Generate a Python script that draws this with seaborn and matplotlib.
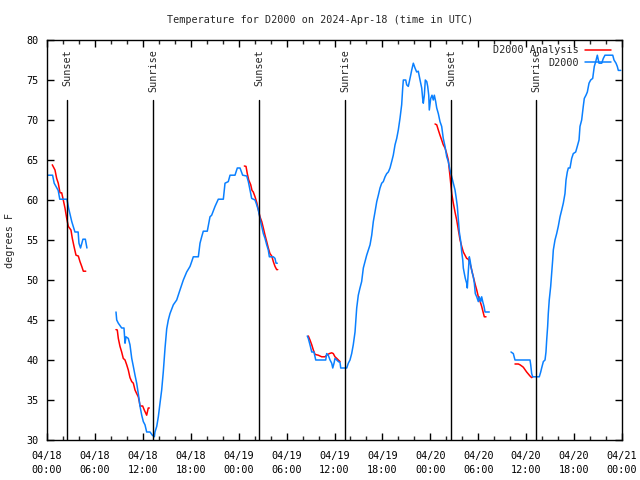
import numpy as np
import pandas as pd
import matplotlib
matplotlib.use("Agg")
import matplotlib.pyplot as plt
import matplotlib.dates as mdates
from matplotlib.lines import Line2D
import seaborn as sns

# ---------------- data (hours after 2024-04-18 00:00 UTC, degrees F) ----------------
start = pd.Timestamp("2024-04-18 00:00")

obs_hours = [
    [0.0, 0.7, 0.9, 1.4, 1.6, 2.5, 2.7, 3.1, 3.5, 3.9, 4.0, 4.2, 4.5, 4.8, 5.0],
    [8.64, 8.73, 8.93, 9.35, 9.64, 9.77, 9.89, 10.18, 10.39, 10.61, 10.81, 11.02, 11.23,
     11.43, 11.65, 11.86, 12.06, 12.27, 12.48, 12.90, 13.19, 13.44, 13.52, 13.74, 13.94,
     14.15, 14.36, 14.56, 14.78, 14.99, 15.19, 15.40, 15.82, 16.24, 16.65, 17.07, 17.49,
     17.91, 18.12, 18.32, 18.95, 19.16, 19.37, 19.57, 20.07, 20.41, 20.62, 21.04, 21.45,
     22.08, 22.29, 22.70, 22.92, 23.54, 23.83, 24.17, 24.50, 25.01, 25.21, 25.42, 25.63,
     26.05, 26.26, 26.46, 26.67, 26.89, 27.09, 27.30, 27.51, 27.71, 27.84, 28.34, 28.55,
     28.68, 28.84],
    [32.59, 32.72, 32.93, 33.15, 33.43, 33.65, 34.90, 35.02, 35.22, 35.44, 35.65, 35.78,
     35.94, 36.06, 36.28, 36.48, 36.69, 36.78, 37.53, 37.73, 37.94, 38.15, 38.35, 38.57,
     38.78, 38.98, 39.19, 39.40, 39.61, 39.82, 40.03, 40.45, 40.66, 40.86, 41.07, 41.29,
     41.49, 41.70, 41.91, 42.11, 42.33, 42.54, 42.74, 42.95, 43.16, 43.36, 43.58, 43.79,
     43.99, 44.20, 44.41, 44.54, 44.62, 44.92, 45.04, 45.24, 45.37, 45.54, 45.67, 45.87,
     46.08, 46.29, 46.49, 46.71, 46.92, 47.04, 47.12, 47.25, 47.37, 47.55, 47.67, 47.80,
     47.87, 48.05, 48.21, 48.37, 48.50, 48.67, 48.80, 49.00, 49.21, 49.42, 49.62, 49.84,
     50.05, 50.25, 50.46, 50.68, 50.88, 51.09, 51.22, 51.38, 51.51, 51.63, 51.81, 51.93,
     52.06, 52.13, 52.26, 52.38, 52.55, 52.63, 52.75, 52.88, 52.97, 53.09, 53.22, 53.38,
     53.51, 53.63, 53.81, 54.01, 54.13, 54.31, 54.43, 54.56, 54.72, 54.85, 55.38],
    [58.10, 58.39, 58.60, 60.48, 60.57, 60.69, 60.82, 61.64, 61.82, 61.94, 62.15, 62.36,
     62.48, 62.57, 62.69, 62.77, 62.89, 63.07, 63.19, 63.32, 63.40, 63.61, 63.82, 64.02,
     64.24, 64.45, 64.65, 64.86, 64.99, 65.15, 65.28, 65.49, 65.70, 65.90, 66.20, 66.40,
     66.62, 66.74, 66.95, 67.15, 67.28, 67.49, 67.66, 67.87, 68.08, 68.33, 68.53, 68.71,
     68.91, 69.12, 69.46, 69.66, 69.87, 70.84, 71.00, 71.25, 71.41, 71.54, 71.84],
]
obs_temps = [
    [63.1, 63.1, 62.1, 61.2, 60.1, 60.1, 59.0, 57.3, 56.0, 56.0, 54.6, 54.0, 55.1, 55.1, 54.0],
    [46.0, 45.0, 44.6, 44.0, 44.0, 42.1, 42.9, 42.7, 41.9, 40.2, 39.2, 38.1, 37.1,
     35.8, 34.2, 33.1, 32.3, 31.9, 31.0, 31.0, 30.6, 30.4, 31.0, 31.7, 32.9,
     34.6, 36.25, 38.5, 41.5, 43.9, 45.0, 45.8, 46.9, 47.5, 48.75, 50.0, 51.0,
     51.7, 52.3, 52.9, 52.9, 54.6, 55.4, 56.1, 56.1, 57.9, 58.1, 59.2, 60.1,
     60.1, 62.1, 62.3, 63.1, 63.1, 64.0, 64.0, 63.1, 63.0, 62.3, 61.25, 60.2,
     60.0, 59.4, 58.75, 57.7, 56.7, 55.8, 55.2, 54.4, 53.75, 52.9, 52.9, 52.7,
     52.1, 52.1],
    [43.0, 42.7, 41.9, 41.0, 41.0, 40.0, 40.0, 40.8, 40.6, 40.0, 39.6, 39.0,
     39.6, 40.2, 40.0, 39.8, 39.7, 39.0, 39.0, 39.6, 40.0, 40.8, 41.9, 43.5,
     46.5, 48.1, 49.0, 49.8, 51.5, 52.3, 53.1, 54.4, 55.6, 57.3, 58.5, 59.8,
     60.6, 61.5, 62.1, 62.3, 62.9, 63.3, 63.5, 64.0, 64.8, 65.6, 66.9, 67.7,
     68.75, 70.2, 71.9, 74.0, 75.0, 75.0, 74.4, 74.2, 74.8, 75.6, 76.25, 77.1,
     76.5, 76.0, 76.1, 75.0, 74.0, 72.7, 72.1, 73.1, 75.0, 74.8, 74.2, 73.1,
     71.25, 72.7, 73.1, 72.5, 73.1, 72.3, 71.5, 70.8, 69.8, 69.2, 67.7, 66.7,
     65.4, 64.8, 63.75, 62.9, 62.1, 61.25, 60.4, 59.2, 57.5, 56.0, 54.8, 53.5,
     52.5, 51.5, 50.8, 50.2, 49.6, 49.0, 51.0, 52.9, 52.5, 51.7, 51.0, 50.4,
     49.6, 48.3, 47.9, 47.3, 47.9, 47.3, 47.9, 47.3, 46.7, 46.0, 46.0],
    [41.0, 40.8, 40.0, 40.0, 39.4, 38.3, 37.9, 37.9, 38.5, 39.0, 39.8, 40.0,
     41.0, 42.5, 44.2, 45.8, 47.5, 49.2, 50.8, 52.5, 53.75, 55.0, 55.8, 56.7,
     57.9, 58.75, 59.6, 60.8, 62.5, 63.5, 64.0, 64.0, 65.2, 65.8, 66.0, 66.7,
     67.5, 69.2, 70.0, 71.7, 72.7, 73.1, 73.5, 74.6, 75.0, 75.2, 76.7, 77.3,
     78.1, 77.1, 77.1, 77.7, 78.1, 78.1, 77.5, 77.1, 76.7, 76.2, 76.2],
]

ana_hours = [
    [0.66, 1.0, 1.21, 1.41, 1.63, 1.84, 2.04, 2.25, 2.47, 2.67, 3.0, 3.17, 3.38, 3.63,
     3.92, 4.13, 4.35, 4.55, 4.85],
    [8.64, 8.80, 8.93, 9.14, 9.35, 9.55, 9.77, 9.98, 10.18, 10.39, 10.61, 10.81, 11.02,
     11.23, 11.43, 11.56, 11.65, 11.98, 12.18, 12.48, 12.68, 12.81],
    [24.71, 24.92, 25.08, 25.26, 25.51, 25.67, 25.83, 26.05, 26.26, 26.46, 26.67, 26.89,
     27.09, 27.30, 27.51, 27.71, 27.92, 28.14, 28.34, 28.55, 28.76, 28.89],
    [32.72, 32.93, 33.15, 33.35, 33.56, 33.97, 34.40, 34.81, 35.02, 35.35, 35.65, 35.85,
     36.06, 36.28, 36.48, 36.69],
    [48.59, 48.80, 49.00, 49.21, 49.42, 49.62, 49.84, 50.05, 50.25, 50.46, 50.68, 50.88,
     51.09, 51.30, 51.51, 51.72, 51.93, 52.13, 52.55, 52.75, 52.97, 53.18, 53.38, 53.63,
     53.81, 54.01, 54.24, 54.43, 54.63, 54.76, 54.97],
    [58.60, 59.02, 59.23, 59.44, 59.64, 59.85, 60.06, 60.27, 60.48, 60.69, 60.82],
]
ana_temps = [
    [64.4, 63.75, 62.7, 62.1, 60.9, 60.9, 60.0, 59.0, 57.7, 56.7, 56.25, 55.2, 54.2, 53.1,
     53.0, 52.3, 51.7, 51.1, 51.1],
    [43.8, 43.75, 42.7, 41.7, 41.0, 40.2, 40.0, 39.4, 38.75, 37.8, 37.3, 37.1, 36.25,
     35.8, 35.4, 34.8, 34.25, 34.25, 33.75, 33.1, 34.0, 34.0],
    [64.25, 64.2, 63.3, 62.5, 61.9, 61.2, 61.0, 60.4, 59.7, 58.8, 57.9, 57.3,
     56.5, 55.6, 54.8, 54.0, 53.3, 53.0, 52.3, 51.7, 51.3, 51.3],
    [43.0, 42.5, 41.9, 41.25, 40.7, 40.6, 40.4, 40.4, 40.6, 40.8, 40.9, 40.8,
     40.4, 40.2, 40.0, 39.8],
    [69.5, 69.4, 68.75, 68.1, 67.5, 66.9, 66.5, 65.8, 65.0, 63.0, 60.8, 59.6,
     58.5, 57.5, 56.25, 55.0, 54.2, 53.5, 52.7, 52.6, 52.1, 51.25, 50.4, 49.4,
     48.75, 47.9, 47.3, 46.7, 45.9, 45.4, 45.4],
    [39.5, 39.5, 39.4, 39.25, 39.1, 38.8, 38.5, 38.25, 38.0, 37.8, 37.9],
]

event_hours = [2.50, 13.27, 26.55, 37.32, 50.59, 61.23]
event_labels = ["Sunset", "Sunrise", "Sunset", "Sunrise", "Sunset", "Sunrise"]

series_names = ["D2000 Analysis", "D2000"]
title = "Temperature for D2000 on 2024-Apr-18 (time in UTC)"

# ---------------- build table ----------------
rows = []
for name, hrs, tmps in [(series_names[0], ana_hours, ana_temps),
                        (series_names[1], obs_hours, obs_temps)]:
    for k, (hs, ts) in enumerate(zip(hrs, tmps)):
        for h, t in zip(hs, ts):
            rows.append({"time": start + pd.Timedelta(hours=h), "temp": t,
                         "series": name, "seg": f"{name}-{k}"})
df = pd.DataFrame(rows)

# ---------------- plot ----------------
sns.set_style("ticks")
FS = 7.3
plt.rcParams["font.family"] = ["DejaVu Sans Mono"]
plt.rcParams["font.size"] = FS

colors = {"D2000 Analysis": "#ff0000", "D2000": "#0a80ff"}

fig = plt.figure(figsize=(6.4, 4.8), dpi=100)
ax = fig.add_axes([47 / 640, 40 / 480, 575 / 640, 400 / 480])

for name in series_names:
    sub = df[df.series == name]
    sns.lineplot(data=sub, x="time", y="temp", units="seg", estimator=None,
                 color=colors[name], linewidth=1.1, sort=False, ax=ax, legend=False)

for h, lab in zip(event_hours, event_labels):
    t = start + pd.Timedelta(hours=h)
    ax.plot([t, t], [30, 72.5], color="black", linewidth=1.0)
    ax.text(t, 78.8, lab, rotation=90, ha="center", va="top", fontsize=FS)

ax.set_xlim(start, start + pd.Timedelta(hours=72))
ax.set_ylim(30, 80)
ax.set_yticks(np.arange(30, 81, 5))
ax.xaxis.set_major_locator(mdates.HourLocator(byhour=range(0, 24, 6)))
ax.xaxis.set_minor_locator(mdates.HourLocator(byhour=range(0, 24, 2)))
ax.xaxis.set_major_formatter(mdates.DateFormatter("%m/%d\n%H:%M"))
ax.tick_params(axis="both", which="major", direction="in", length=5, width=1,
               top=True, right=True, labelsize=FS, colors="black")
ax.tick_params(axis="x", which="major", pad=8)
ax.tick_params(axis="y", which="major", pad=6)
ax.tick_params(axis="x", which="minor", direction="in", length=3, width=1,
               top=True, bottom=True)
for sp in ax.spines.values():
    sp.set_linewidth(1.0)
    sp.set_color("black")

ax.set_xlabel("")
ax.set_ylabel("degrees F", fontsize=FS, labelpad=8)
fig.text(0.5, 1 - 20 / 480, title, ha="center", va="center", fontsize=FS)

handles = [Line2D([0], [0], color=colors[n], linewidth=1.1) for n in series_names]
ax.legend(handles, series_names, loc="upper right", frameon=False, markerfirst=False,
          handlelength=2.6, borderaxespad=0.1, labelspacing=0.25, fontsize=FS,
          handletextpad=0.6, bbox_to_anchor=(0.99, 1.0))

fig.canvas.draw()
for lbl in ax.get_xticklabels():
    lbl.set_linespacing(1.5)

fig.savefig("out.png", dpi=100)
